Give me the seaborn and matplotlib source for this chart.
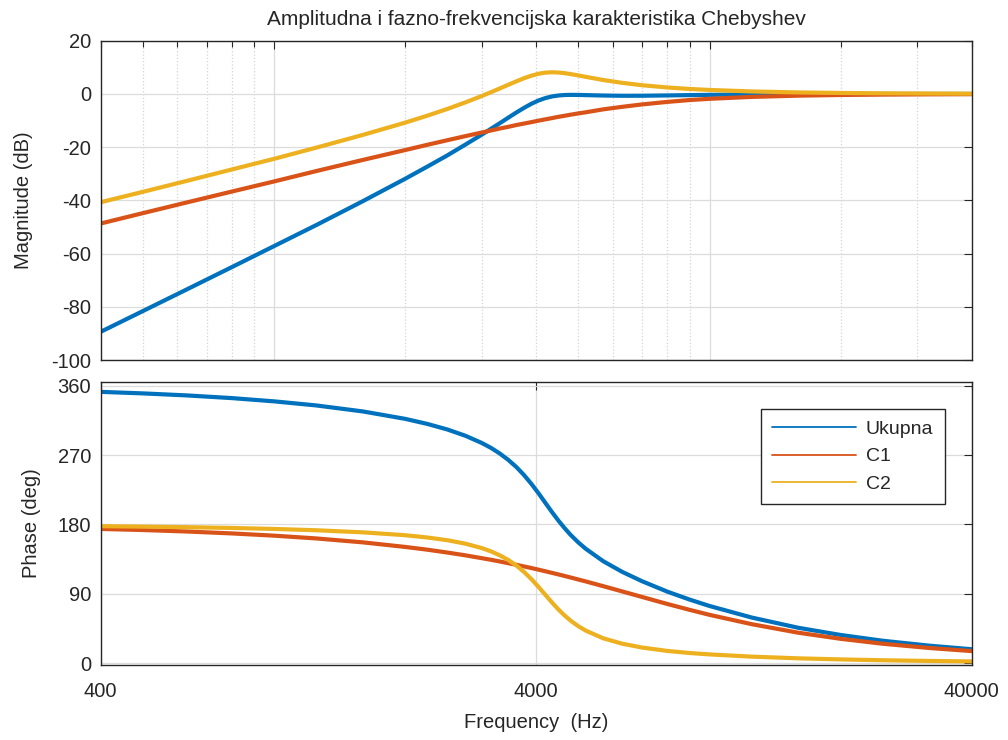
import matplotlib
matplotlib.use("Agg")
import matplotlib.pyplot as plt
import matplotlib.ticker as mticker
from matplotlib.lines import Line2D
import pandas as pd
import seaborn as sns

# values
freq = [400, 500, 630, 800, 1000, 1250, 1600, 2000, 2250, 2500, 2750, 3000, 3150, 3300, 3450, 3600, 3750, 3900,
        4050, 4200, 4350, 4500, 4650, 4800, 5000, 5200, 5700, 6300, 7000, 8000, 9000, 10000,
        12500, 16000, 20000, 25000, 32000, 40000]

mag_ukupna = [-89.4, -81.6, -73.5, -65.1, -57.2, -49.3, -40.3, -31.9, -27.3, -23.1, -19.06, -15.3, -13.09, -11.0, -8.94, -7.0, -5.25, -3.7,
              -2.47, -1.55, -0.94, -0.59, -0.41, -0.36, -0.38, -0.45, -0.6, -0.7, -0.68, -0.57, -0.45, -0.35,
              -0.19, -0.09, -0.05, -0.02, -0.01, -0.01]
mag_c1 = [-48.7, -44.8, -40.8, -36.7, -32.9, -29.0, -24.8, -21.1, -19.12, -17.4, -15.87, -14.5, -13.74, -13.0, -12.37, -11.7, -11.14, -10.6,
          -10.05, -9.55, -9.08, -8.6, -8.21, -7.8, -7.32, -6.9, -5.8, -4.85, -3.95, -3.0, -2.3, -1.84,
          -1.12, -0.65, -0.4, -0.25, -0.15, -0.09]
mag_c2 = [-40.7, -36.8, -32.7, -28.4, -24.4, -20.2, -15.4, -10.8, -8.17, -5.65, -3.19, -0.78, 0.65, 2.06, 3.43, 4.72, 5.89, 6.86,
          7.58, 8.0, 8.14, 8.04, 7.8, 7.45, 6.94, 6.41, 5.23, 4.16, 3.27, 2.42, 1.87, 1.49,
          0.93, 0.56, 0.36, 0.23, 0.14, 0.09]

phase_ukupna = [352.0, 350.0, 347.4, 343.9, 339.7, 334.4, 326.6, 317.0, 310.4, 303.2, 295.1, 285.7, 279.3, 272.0, 263.8, 254.6, 244.1, 232.6,
                220.4, 207.9, 195.9, 184.9, 175.1, 166.4, 156.6, 148.4, 132.4, 118.6, 106.4, 92.9, 82.6, 74.3,
                59.3, 46.0, 36.7, 29.2, 22.8, 18.2]
phase_c1 = [174.2, 172.8, 170.9, 168.4, 165.5, 161.9, 156.8, 150.9, 147.3, 143.6, 140.0, 136.3, 134.2, 132.0, 129.8, 127.7, 125.6, 123.5,
            121.4, 119.3, 117.2, 115.2, 113.2, 111.2, 108.6, 106.1, 100.0, 93.2, 86.0, 76.9, 69.3, 62.8,
            50.7, 39.6, 31.7, 25.3, 19.8, 15.8]
phase_c2 = [177.8, 177.2, 176.5, 175.5, 174.2, 172.5, 169.8, 166.1, 163.1, 159.6, 155.1, 149.4, 145.1, 140.0, 134.0, 126.9, 118.5, 109.1,
            99.0, 88.6, 78.7, 69.7, 61.9, 55.2, 48.0, 42.3, 32.4, 25.4, 20.4, 16.0, 13.3, 11.5,
            8.6, 6.4, 5.0, 3.9, 3.0, 2.4]

series = ['Ukupna', 'C1', 'C2']
colors = ['#0072BD', '#D95319', '#EDB120']
freq_ticks = [400, 4000, 40000]
phase_ticks = [0, 90, 180, 270, 360]

sns.set_style("white")
plt.rcParams['font.family'] = ['Liberation Sans', 'DejaVu Sans']
plt.rcParams['axes.unicode_minus'] = False
plt.rcParams['text.color'] = '#262626'
plt.rcParams['axes.labelcolor'] = '#262626'
plt.rcParams['xtick.color'] = '#262626'
plt.rcParams['ytick.color'] = '#262626'

n = len(freq)
df = pd.DataFrame({
    'Frequency': freq * 3,
    'mag': mag_ukupna + mag_c1 + mag_c2,
    'phase': phase_ukupna + phase_c1 + phase_c2,
    'serija': [s for s in series for _ in range(n)],
})
palette = dict(zip(series, colors))

fig = plt.figure(figsize=(10.08, 7.4), dpi=100)
ax1 = fig.add_axes([0.0999, 0.5135, 0.8641, 0.4315])
ax2 = fig.add_axes([0.0999, 0.1014, 0.8641, 0.3824])

sns.lineplot(data=df, x='Frequency', y='mag', hue='serija', palette=palette, lw=3,
             legend=False, errorbar=None, ax=ax1)
sns.lineplot(data=df, x='Frequency', y='phase', hue='serija', palette=palette, lw=3,
             legend=False, errorbar=None, ax=ax2)

for ax in (ax1, ax2):
    ax.set_xscale('log')
    ax.set_xlim(400, 40000)
    ax.tick_params(which='both', direction='in', top=True, right=True, labelsize=14.5)
    ax.tick_params(which='major', length=6, width=0.8)
    ax.tick_params(which='minor', length=4, width=0.8)
    ax.tick_params(axis='y', pad=7)
    ax.tick_params(axis='x', pad=12)
    for sp in ax.spines.values():
        sp.set_color('#262626')
        sp.set_linewidth(1.0)

# magnitude panel
ax1.set_ylim(-100, 20)
ax1.set_yticks(range(-100, 21, 20))
ax1.xaxis.set_major_locator(mticker.LogLocator(base=10))
ax1.xaxis.set_minor_locator(mticker.LogLocator(base=10, subs=range(2, 10)))
ax1.xaxis.set_minor_formatter(mticker.NullFormatter())
ax1.tick_params(labelbottom=False)
ax1.grid(True, which='major', color='#dcdcdc', lw=0.9)
ax1.grid(True, which='minor', axis='x', color='#d4d4d4', lw=0.9, ls=':')
ax1.set_xlabel('')
ax1.set_ylabel('Magnitude (dB)', fontsize=14.5)
ax1.yaxis.set_label_coords(-0.0777, 0.5)
ax1.set_title('Amplitudna i fazno-frekvencijska karakteristika Chebyshev', fontsize=15, pad=11)

# phase panel
ax2.set_ylim(-2.2, 364.8)
ax2.set_yticks(phase_ticks)
ax2.set_xticks(freq_ticks)
ax2.set_xticklabels([str(t) for t in freq_ticks])
ax2.xaxis.set_minor_locator(mticker.NullLocator())
ax2.grid(True, which='major', color='#dcdcdc', lw=0.9)
ax2.set_xlabel('Frequency  (Hz)', fontsize=14.5, labelpad=9)
ax2.set_ylabel('Phase (deg)', fontsize=14.5)
ax2.yaxis.set_label_coords(-0.0687, 0.5)

handles = [Line2D([], [], color=c, lw=1.3) for c in colors]
leg = ax2.legend(handles, series, loc='upper right', bbox_to_anchor=(0.969, 0.905),
                 borderaxespad=0, fontsize=14, handlelength=4.3, handletextpad=0.5,
                 borderpad=0.6, labelspacing=0.5, frameon=True,
                 fancybox=False, edgecolor='#262626', framealpha=1)
leg.get_frame().set_linewidth(1.0)

fig.savefig('out.png', dpi=100)
